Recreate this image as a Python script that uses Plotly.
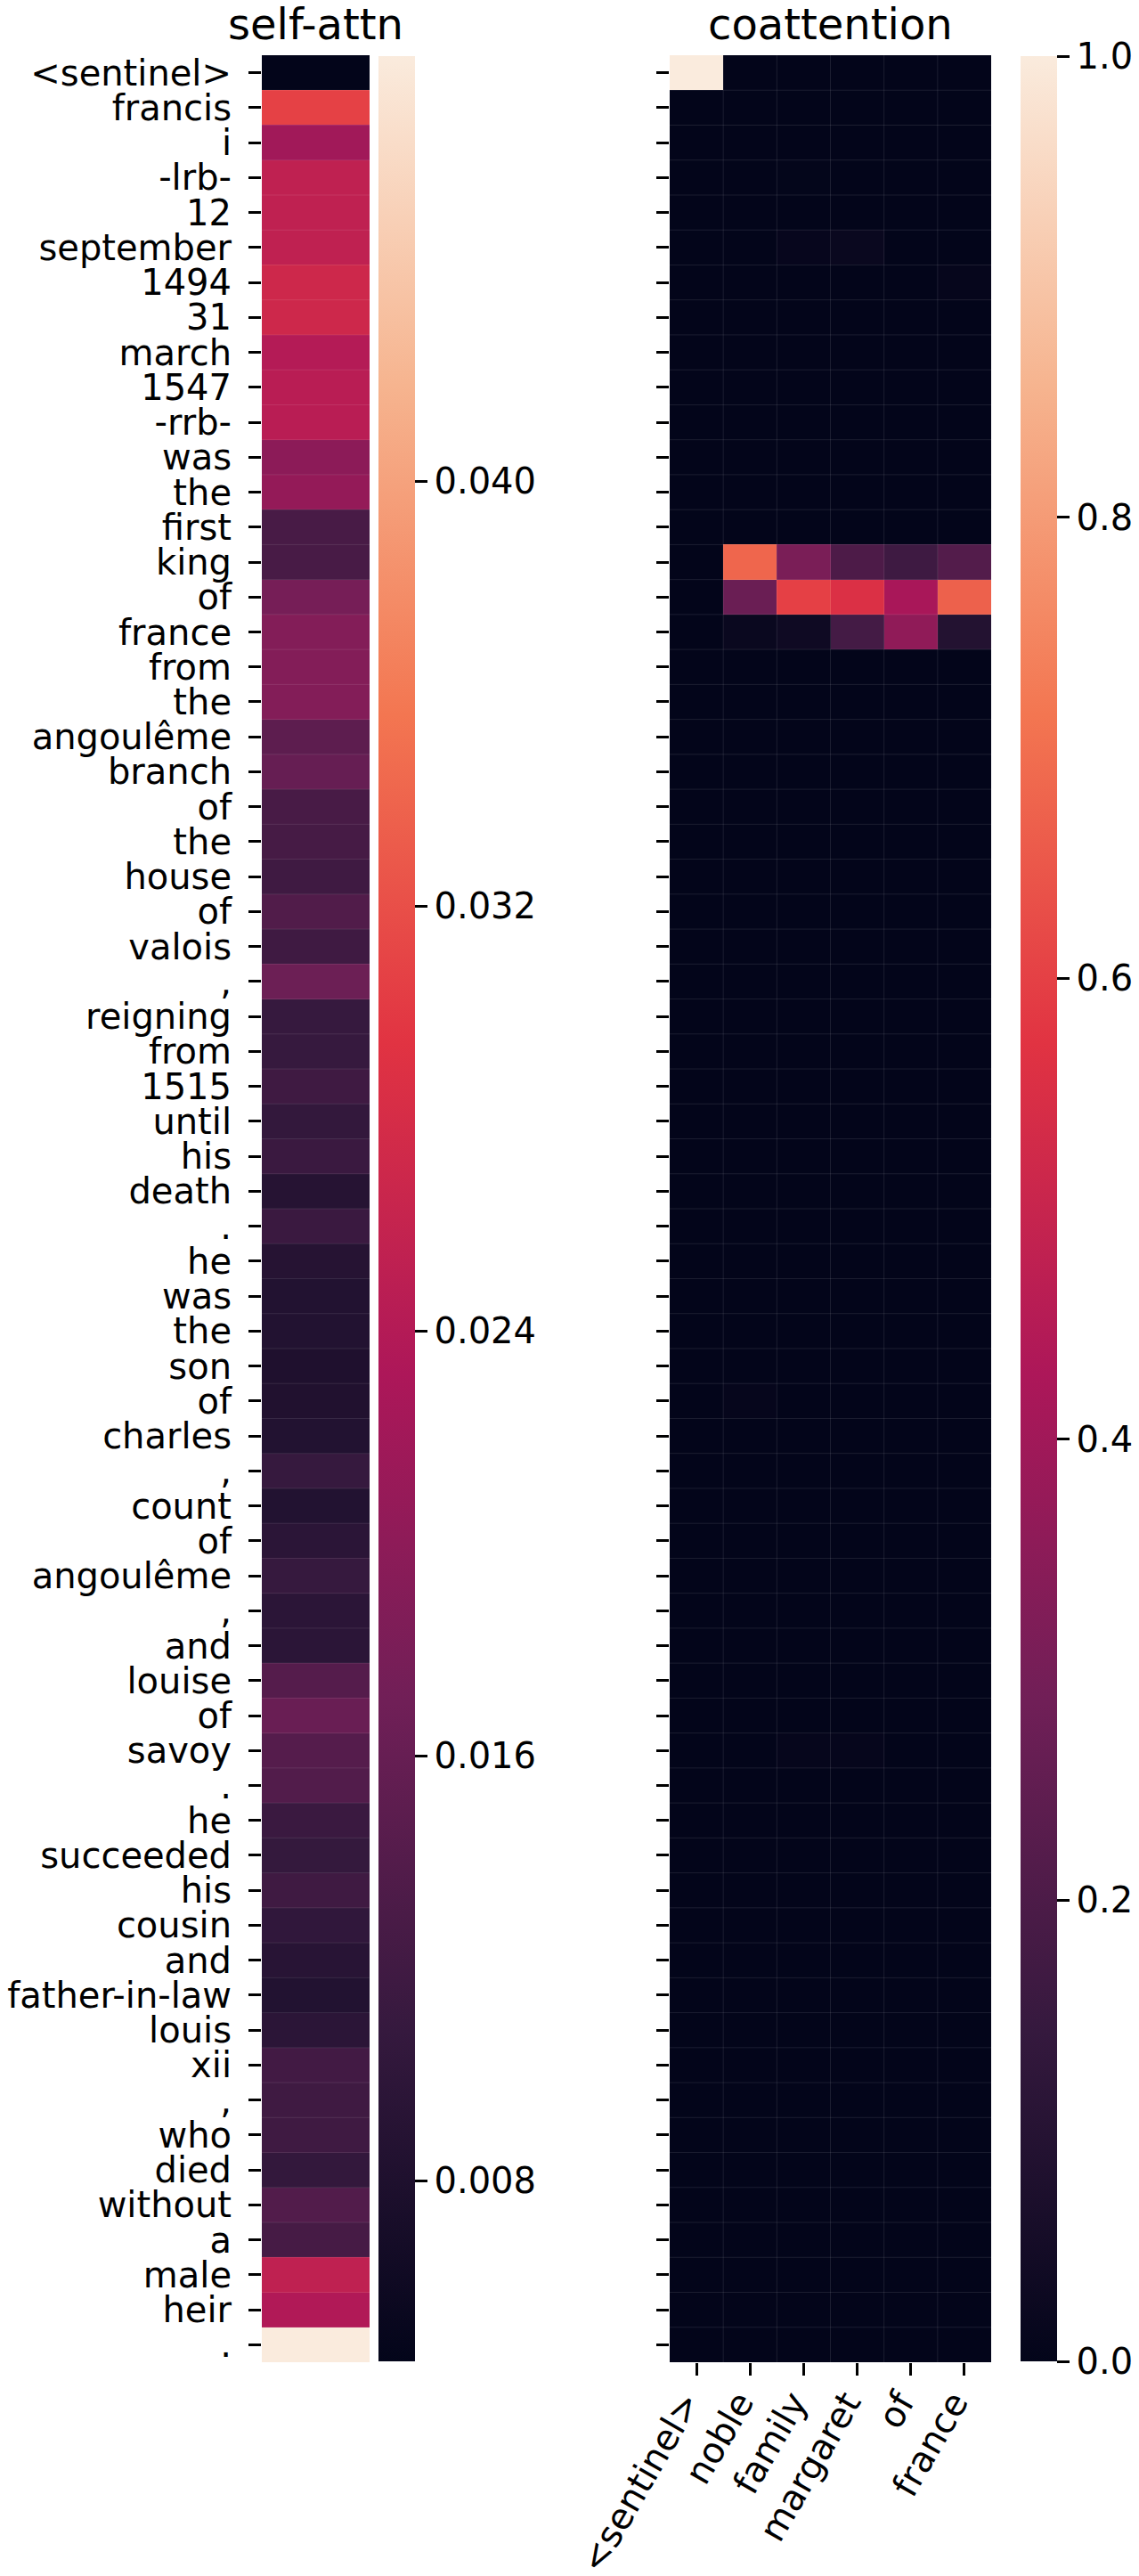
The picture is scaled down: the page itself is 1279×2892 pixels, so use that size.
import plotly.graph_objects as go

W, H = 1279, 2892

context_tokens = ["<sentinel>", "francis", "i", "-lrb-", "12", "september", "1494", "31", "march", "1547",
                  "-rrb-", "was", "the", "first", "king", "of", "france", "from", "the", "angoulême",
                  "branch", "of", "the", "house", "of", "valois", ",", "reigning", "from", "1515",
                  "until", "his", "death", ".", "he", "was", "the", "son", "of", "charles",
                  ",", "count", "of", "angoulême", ",", "and", "louise", "of", "savoy", ".",
                  "he", "succeeded", "his", "cousin", "and", "father-in-law", "louis", "xii", ",", "who",
                  "died", "without", "a", "male", "heir", "."]

self_attn = [0.0046, 0.0307, 0.0220, 0.0254, 0.0254, 0.0254, 0.0270, 0.0270, 0.0240, 0.0246,
             0.0246, 0.0198, 0.0207, 0.0128, 0.0128, 0.0176, 0.0189, 0.0189, 0.0189, 0.0150,
             0.0159, 0.0128, 0.0126, 0.0118, 0.0137, 0.0118, 0.0166, 0.0109, 0.0109, 0.0118,
             0.0105, 0.0113, 0.0089, 0.0113, 0.0089, 0.0085, 0.0085, 0.0081, 0.0083, 0.0085,
             0.0109, 0.0085, 0.0096, 0.0109, 0.0096, 0.0096, 0.0142, 0.0163, 0.0142, 0.0139,
             0.0113, 0.0107, 0.0118, 0.0102, 0.0092, 0.0085, 0.0096, 0.0122, 0.0118, 0.0118,
             0.0105, 0.0139, 0.0126, 0.0254, 0.0237, 0.0480]

question_tokens = ["<sentinel>", "noble", "family", "margaret", "of", "france"]

coattention = [
    [1.00, 0.00, 0.00, 0.00, 0.00, 0.00],  # <sentinel>
    [0.00, 0.00, 0.00, 0.00, 0.00, 0.00],  # francis
    [0.00, 0.00, 0.00, 0.00, 0.00, 0.00],  # i
    [0.00, 0.00, 0.004, 0.00, 0.00, 0.00],  # -lrb-
    [0.00, 0.00, 0.00, 0.00, 0.00, 0.00],  # 12
    [0.00, 0.00, 0.010, 0.020, 0.00, 0.00],  # september
    [0.00, 0.00, 0.00, 0.00, 0.00, 0.008],  # 1494
    [0.00, 0.00, 0.00, 0.00, 0.00, 0.00],  # 31
    [0.00, 0.00, 0.00, 0.00, 0.00, 0.00],  # march
    [0.00, 0.00, 0.00, 0.00, 0.00, 0.00],  # 1547
    [0.00, 0.00, 0.00, 0.00, 0.00, 0.00],  # -rrb-
    [0.00, 0.00, 0.00, 0.00, 0.00, 0.00],  # was
    [0.00, 0.00, 0.00, 0.00, 0.00, 0.00],  # the
    [0.00, 0.00, 0.00, 0.00, 0.00, 0.00],  # first
    [0.00, 0.68, 0.31, 0.20, 0.165, 0.215],  # king
    [0.00, 0.27, 0.60, 0.555, 0.42, 0.67],  # of
    [0.00, 0.02, 0.035, 0.18, 0.36, 0.09],  # france
    [0.00, 0.00, 0.00, 0.00, 0.00, 0.00],  # from
    [0.00, 0.00, 0.00, 0.00, 0.00, 0.00],  # the
    [0.00, 0.00, 0.00, 0.00, 0.00, 0.00],  # angoulême
    [0.00, 0.00, 0.00, 0.00, 0.00, 0.00],  # branch
    [0.00, 0.00, 0.00, 0.00, 0.00, 0.00],  # of
    [0.00, 0.00, 0.00, 0.00, 0.00, 0.00],  # the
    [0.00, 0.00, 0.00, 0.00, 0.00, 0.00],  # house
    [0.00, 0.00, 0.00, 0.00, 0.00, 0.00],  # of
    [0.00, 0.00, 0.00, 0.00, 0.00, 0.00],  # valois
    [0.00, 0.00, 0.00, 0.00, 0.00, 0.00],  # ,
    [0.00, 0.00, 0.00, 0.00, 0.00, 0.00],  # reigning
    [0.00, 0.00, 0.00, 0.00, 0.00, 0.00],  # from
    [0.00, 0.00, 0.00, 0.00, 0.00, 0.00],  # 1515
    [0.00, 0.00, 0.00, 0.00, 0.00, 0.00],  # until
    [0.00, 0.00, 0.00, 0.00, 0.00, 0.00],  # his
    [0.00, 0.00, 0.00, 0.00, 0.00, 0.00],  # death
    [0.00, 0.00, 0.00, 0.00, 0.00, 0.00],  # .
    [0.00, 0.00, 0.00, 0.00, 0.00, 0.00],  # he
    [0.00, 0.00, 0.00, 0.00, 0.00, 0.00],  # was
    [0.00, 0.00, 0.00, 0.00, 0.00, 0.00],  # the
    [0.00, 0.00, 0.00, 0.00, 0.00, 0.00],  # son
    [0.00, 0.008, 0.00, 0.00, 0.00, 0.00],  # of
    [0.00, 0.00, 0.00, 0.00, 0.00, 0.00],  # charles
    [0.00, 0.00, 0.00, 0.00, 0.00, 0.00],  # ,
    [0.00, 0.00, 0.00, 0.00, 0.00, 0.00],  # count
    [0.00, 0.00, 0.00, 0.00, 0.00, 0.00],  # of
    [0.00, 0.00, 0.00, 0.00, 0.00, 0.00],  # angoulême
    [0.00, 0.00, 0.00, 0.00, 0.00, 0.00],  # ,
    [0.00, 0.00, 0.00, 0.00, 0.00, 0.00],  # and
    [0.00, 0.00, 0.00, 0.00, 0.00, 0.00],  # louise
    [0.00, 0.00, 0.00, 0.00, 0.00, 0.00],  # of
    [0.00, 0.00, 0.008, 0.008, 0.00, 0.00],  # savoy
    [0.00, 0.00, 0.00, 0.00, 0.00, 0.00],  # .
    [0.00, 0.00, 0.00, 0.00, 0.00, 0.00],  # he
    [0.00, 0.00, 0.00, 0.00, 0.00, 0.00],  # succeeded
    [0.00, 0.00, 0.00, 0.00, 0.00, 0.00],  # his
    [0.00, 0.00, 0.00, 0.00, 0.00, 0.00],  # cousin
    [0.00, 0.00, 0.00, 0.00, 0.00, 0.00],  # and
    [0.00, 0.00, 0.00, 0.00, 0.00, 0.00],  # father-in-law
    [0.00, 0.00, 0.00, 0.00, 0.00, 0.00],  # louis
    [0.00, 0.00, 0.00, 0.00, 0.00, 0.00],  # xii
    [0.00, 0.00, 0.00, 0.00, 0.00, 0.00],  # ,
    [0.00, 0.00, 0.00, 0.00, 0.00, 0.00],  # who
    [0.00, 0.00, 0.00, 0.00, 0.00, 0.00],  # died
    [0.00, 0.00, 0.00, 0.00, 0.00, 0.00],  # without
    [0.00, 0.00, 0.00, 0.00, 0.00, 0.00],  # a
    [0.00, 0.00, 0.00, 0.00, 0.00, 0.00],  # male
    [0.00, 0.00, 0.00, 0.00, 0.00, 0.00],  # heir
    [0.00, 0.00, 0.00, 0.00, 0.00, 0.00],  # .
]

sa_ticks = [0.008, 0.016, 0.024, 0.032, 0.040]
co_ticks = [0.0, 0.2, 0.4, 0.6, 0.8, 1.0]

rocket = [
    [0.0, "#03051a"],
    [1 / 7, "#35193e"],
    [2 / 7, "#701f57"],
    [3 / 7, "#ad1759"],
    [4 / 7, "#e13342"],
    [5 / 7, "#f37651"],
    [6 / 7, "#f6b48f"],
    [1.0, "#faebdd"],
]

FONT = "DejaVu Sans"
n_rows = len(context_tokens)
n_cols = len(question_tokens)
rows_idx = list(range(n_rows))
cols_idx = list(range(n_cols))

def px_x(p):
    return p / W

def px_y(p):
    return 1 - p / H

top_px, bot_px = 62, 2652

fig = go.Figure()

fig.add_trace(go.Heatmap(
    z=[[v] for v in self_attn], x=[0], y=rows_idx,
    colorscale=rocket, showscale=True, hoverinfo="skip",
    colorbar=dict(
        x=px_x(425), xanchor="left", xpad=0, ypad=0,
        y=px_y(63), yanchor="top", len=(2651 - 63) / H, lenmode="fraction",
        thickness=41, thicknessmode="pixels", outlinewidth=0,
        tickvals=sa_ticks, ticktext=[f"{t:.3f}" for t in sa_ticks],
        ticks="outside", ticklen=14, tickwidth=3, tickcolor="black",
        tickfont=dict(family=FONT, size=40, color="black"),
    ),
    xaxis="x", yaxis="y",
))

fig.add_trace(go.Heatmap(
    z=coattention, x=cols_idx, y=rows_idx,
    colorscale=rocket, zmin=0, zmax=1, showscale=True, hoverinfo="skip",
    colorbar=dict(
        x=px_x(1146), xanchor="left", xpad=0, ypad=0,
        y=px_y(63), yanchor="top", len=(2651 - 63) / H, lenmode="fraction",
        thickness=41, thicknessmode="pixels", outlinewidth=0,
        tickvals=co_ticks, ticktext=[f"{t:.1f}" for t in co_ticks],
        ticks="outside", ticklen=14, tickwidth=3, tickcolor="black",
        tickfont=dict(family=FONT, size=40, color="black"),
    ),
    xaxis="x2", yaxis="y2",
))

# faint seams between cells (rendering artefacts in the original)
shapes = []
seam = dict(color="rgba(255,255,255,0.10)", width=1)
for i in rows_idx[:-1]:
    shapes.append(dict(type="line", xref="x", yref="y", x0=-0.5, x1=0.5, y0=i + 0.5, y1=i + 0.5, line=seam, layer="above"))
    shapes.append(dict(type="line", xref="x2", yref="y2", x0=-0.5, x1=n_cols - 0.5, y0=i + 0.5, y1=i + 0.5, line=seam, layer="above"))
for j in cols_idx[:-1]:
    shapes.append(dict(type="line", xref="x2", yref="y2", x0=j + 0.5, x1=j + 0.5, y0=-0.5, y1=n_rows - 0.5, line=seam, layer="above"))

ydom = [px_y(bot_px), px_y(top_px)]
tick_common = dict(ticks="outside", ticklen=14, tickwidth=3, tickcolor="black",
                   showgrid=False, zeroline=False, showline=False, automargin=False)

fig.update_layout(
    width=W, height=H,
    margin=dict(l=0, r=0, t=0, b=0, autoexpand=False),
    paper_bgcolor="white", plot_bgcolor="white",
    template="none",
    font=dict(family=FONT, size=40, color="black"),
    showlegend=False,
    shapes=shapes,
    xaxis=dict(domain=[px_x(294), px_x(415)], range=[-0.5, 0.5], showticklabels=False,
               ticks="", showgrid=False, zeroline=False, showline=False, anchor="y", automargin=False),
    yaxis=dict(domain=ydom, range=[n_rows - 0.5, -0.5], tickmode="array", tickvals=rows_idx,
               ticktext=context_tokens, tickfont=dict(family=FONT, size=40, color="black"),
               ticklabelstandoff=11, anchor="x", **tick_common),
    xaxis2=dict(domain=[px_x(752), px_x(1113)], range=[-0.5, n_cols - 0.5], tickmode="array",
                tickvals=cols_idx, ticktext=question_tokens, tickangle=-60,
                ticklabelshift=-12, ticklabelstandoff=-9,
                tickfont=dict(family=FONT, size=40, color="black"), anchor="y2", **tick_common),
    yaxis2=dict(domain=ydom, range=[n_rows - 0.5, -0.5], tickmode="array", tickvals=rows_idx,
                showticklabels=False, anchor="x2", **tick_common),
    annotations=[
        dict(text="self-attn", x=px_x(354.5), y=px_y(27), xref="paper", yref="paper",
             xanchor="center", yanchor="middle", showarrow=False,
             font=dict(family=FONT, size=48, color="black")),
        dict(text="coattention", x=px_x(932.5), y=px_y(27), xref="paper", yref="paper",
             xanchor="center", yanchor="middle", showarrow=False,
             font=dict(family=FONT, size=48, color="black")),
    ],
)

fig.write_html("out.html")
